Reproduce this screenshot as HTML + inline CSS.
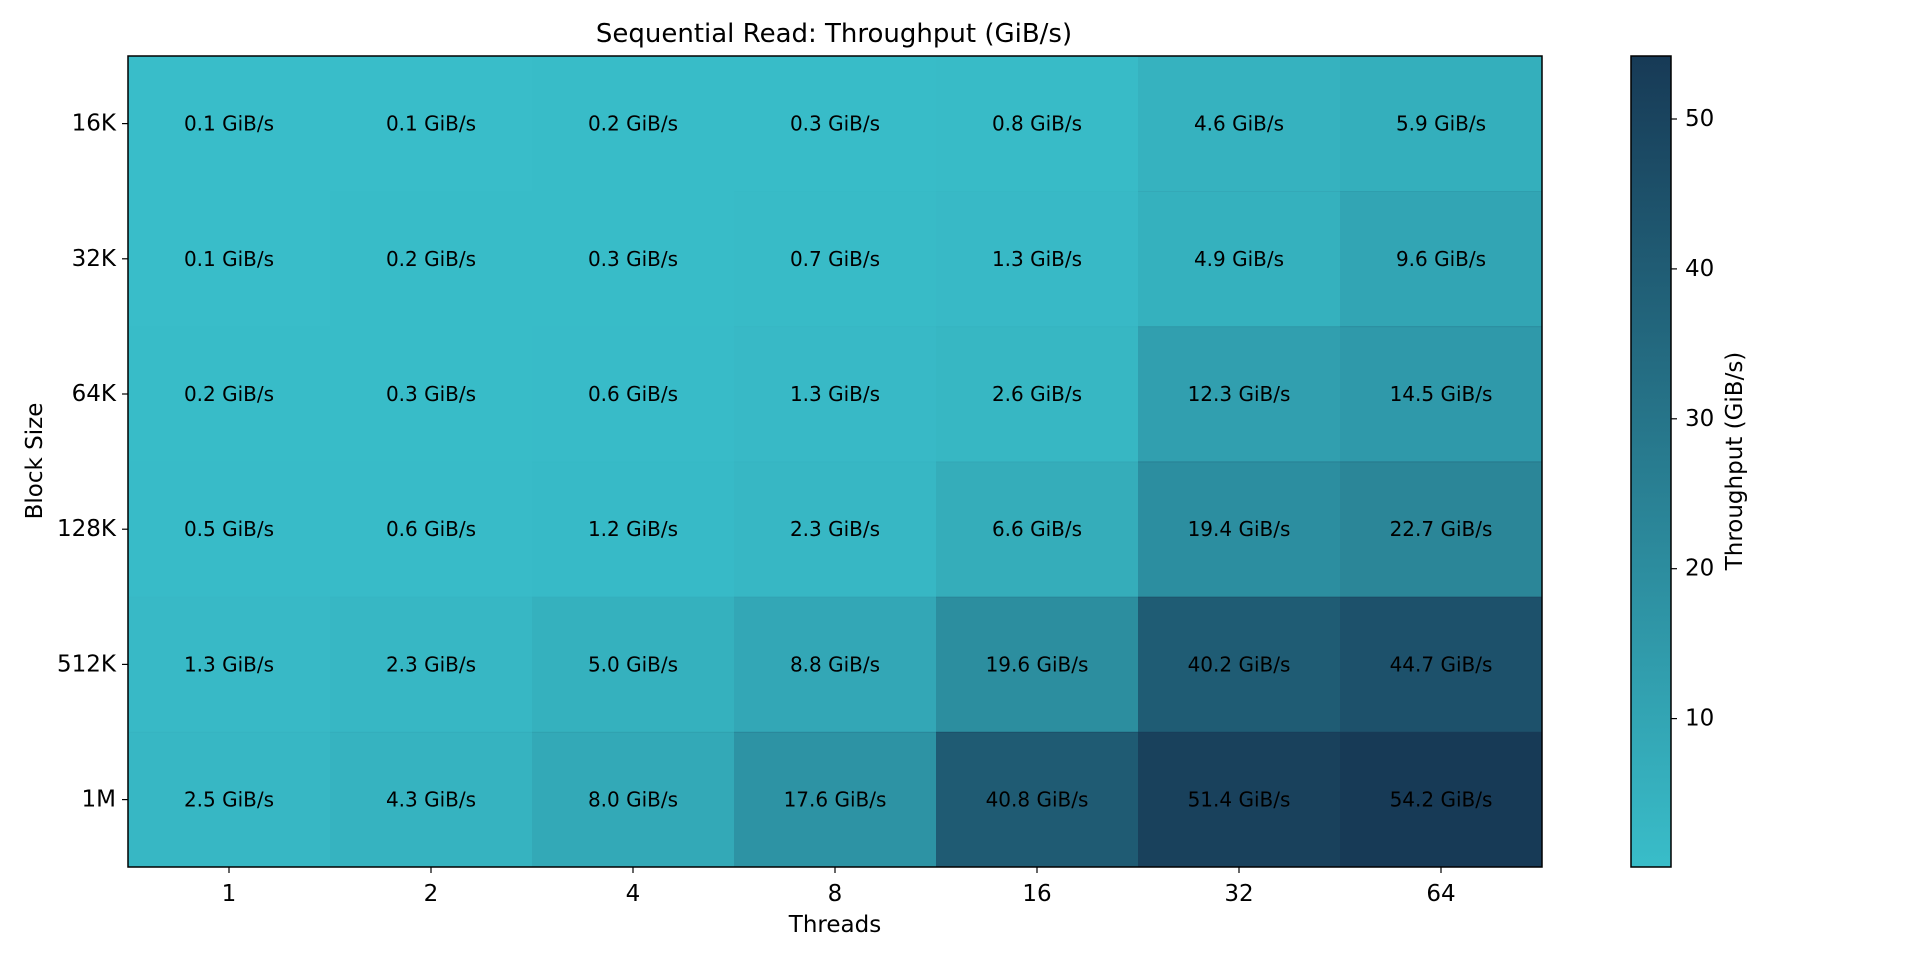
<!DOCTYPE html>
<html><head><meta charset="utf-8"><style>body{margin:0;background:#fff}svg{display:block}text{font-family:"DejaVu Sans","Liberation Sans",sans-serif;fill:#000}</style></head><body>
<svg width="1920" height="960" xmlns="http://www.w3.org/2000/svg">
<defs><linearGradient id="cb" x1="0" y1="1" x2="0" y2="0"><stop offset="0" stop-color="#39bdc9"/><stop offset="1" stop-color="#173a56"/></linearGradient></defs>
<text x="834" y="34" font-size="26" text-anchor="middle" dominant-baseline="central">Sequential Read: Throughput (GiB/s)</text>
<rect x="128" y="56" width="1414" height="811" fill="#39bdc9"/>
<g fill="#173a56">
<rect x="128" y="56" width="202" height="136" fill-opacity="0"/>
<rect x="330" y="56" width="202" height="136" fill-opacity="0"/>
<rect x="532" y="56" width="202" height="136" fill-opacity="0.002"/>
<rect x="734" y="56" width="202" height="136" fill-opacity="0.004"/>
<rect x="936" y="56" width="202" height="136" fill-opacity="0.013"/>
<rect x="1138" y="56" width="202" height="136" fill-opacity="0.083"/>
<rect x="1340" y="56" width="202" height="136" fill-opacity="0.107"/>
<rect x="128" y="191.2" width="202" height="136" fill-opacity="0"/>
<rect x="330" y="191.2" width="202" height="136" fill-opacity="0.002"/>
<rect x="532" y="191.2" width="202" height="136" fill-opacity="0.004"/>
<rect x="734" y="191.2" width="202" height="136" fill-opacity="0.011"/>
<rect x="936" y="191.2" width="202" height="136" fill-opacity="0.022"/>
<rect x="1138" y="191.2" width="202" height="136" fill-opacity="0.089"/>
<rect x="1340" y="191.2" width="202" height="136" fill-opacity="0.176"/>
<rect x="128" y="326.3" width="202" height="136" fill-opacity="0.002"/>
<rect x="330" y="326.3" width="202" height="136" fill-opacity="0.004"/>
<rect x="532" y="326.3" width="202" height="136" fill-opacity="0.009"/>
<rect x="734" y="326.3" width="202" height="136" fill-opacity="0.022"/>
<rect x="936" y="326.3" width="202" height="136" fill-opacity="0.046"/>
<rect x="1138" y="326.3" width="202" height="136" fill-opacity="0.226"/>
<rect x="1340" y="326.3" width="202" height="136" fill-opacity="0.266"/>
<rect x="128" y="461.5" width="202" height="136" fill-opacity="0.007"/>
<rect x="330" y="461.5" width="202" height="136" fill-opacity="0.009"/>
<rect x="532" y="461.5" width="202" height="136" fill-opacity="0.020"/>
<rect x="734" y="461.5" width="202" height="136" fill-opacity="0.041"/>
<rect x="936" y="461.5" width="202" height="136" fill-opacity="0.120"/>
<rect x="1138" y="461.5" width="202" height="136" fill-opacity="0.357"/>
<rect x="1340" y="461.5" width="202" height="136" fill-opacity="0.418"/>
<rect x="128" y="596.7" width="202" height="136" fill-opacity="0.022"/>
<rect x="330" y="596.7" width="202" height="136" fill-opacity="0.041"/>
<rect x="532" y="596.7" width="202" height="136" fill-opacity="0.091"/>
<rect x="734" y="596.7" width="202" height="136" fill-opacity="0.161"/>
<rect x="936" y="596.7" width="202" height="136" fill-opacity="0.360"/>
<rect x="1138" y="596.7" width="202" height="136" fill-opacity="0.741"/>
<rect x="1340" y="596.7" width="202" height="136" fill-opacity="0.824"/>
<rect x="128" y="731.8" width="202" height="135.2" fill-opacity="0.044"/>
<rect x="330" y="731.8" width="202" height="135.2" fill-opacity="0.078"/>
<rect x="532" y="731.8" width="202" height="135.2" fill-opacity="0.146"/>
<rect x="734" y="731.8" width="202" height="135.2" fill-opacity="0.323"/>
<rect x="936" y="731.8" width="202" height="135.2" fill-opacity="0.752"/>
<rect x="1138" y="731.8" width="202" height="135.2" fill-opacity="0.948"/>
<rect x="1340" y="731.8" width="202" height="135.2" fill-opacity="1"/>
</g>
<g font-size="20" text-anchor="middle" dominant-baseline="central">
<text x="229" y="123.6">0.1 GiB/s</text><text x="431" y="123.6">0.1 GiB/s</text><text x="633" y="123.6">0.2 GiB/s</text><text x="835" y="123.6">0.3 GiB/s</text><text x="1037" y="123.6">0.8 GiB/s</text><text x="1239" y="123.6">4.6 GiB/s</text><text x="1441" y="123.6">5.9 GiB/s</text>
<text x="229" y="258.8">0.1 GiB/s</text><text x="431" y="258.8">0.2 GiB/s</text><text x="633" y="258.8">0.3 GiB/s</text><text x="835" y="258.8">0.7 GiB/s</text><text x="1037" y="258.8">1.3 GiB/s</text><text x="1239" y="258.8">4.9 GiB/s</text><text x="1441" y="258.8">9.6 GiB/s</text>
<text x="229" y="394">0.2 GiB/s</text><text x="431" y="394">0.3 GiB/s</text><text x="633" y="394">0.6 GiB/s</text><text x="835" y="394">1.3 GiB/s</text><text x="1037" y="394">2.6 GiB/s</text><text x="1239" y="394">12.3 GiB/s</text><text x="1441" y="394">14.5 GiB/s</text>
<text x="229" y="529.2">0.5 GiB/s</text><text x="431" y="529.2">0.6 GiB/s</text><text x="633" y="529.2">1.2 GiB/s</text><text x="835" y="529.2">2.3 GiB/s</text><text x="1037" y="529.2">6.6 GiB/s</text><text x="1239" y="529.2">19.4 GiB/s</text><text x="1441" y="529.2">22.7 GiB/s</text>
<text x="229" y="664.4">1.3 GiB/s</text><text x="431" y="664.4">2.3 GiB/s</text><text x="633" y="664.4">5.0 GiB/s</text><text x="835" y="664.4">8.8 GiB/s</text><text x="1037" y="664.4">19.6 GiB/s</text><text x="1239" y="664.4">40.2 GiB/s</text><text x="1441" y="664.4">44.7 GiB/s</text>
<text x="229" y="799.6">2.5 GiB/s</text><text x="431" y="799.6">4.3 GiB/s</text><text x="633" y="799.6">8.0 GiB/s</text><text x="835" y="799.6">17.6 GiB/s</text><text x="1037" y="799.6">40.8 GiB/s</text><text x="1239" y="799.6">51.4 GiB/s</text><text x="1441" y="799.6">54.2 GiB/s</text>
</g>
<rect x="128" y="56" width="1414" height="811" fill="none" stroke="#000" stroke-width="1.5"/>
<g stroke="#000" stroke-width="1.2">
<line x1="229" y1="867" x2="229" y2="873"/><line x1="431" y1="867" x2="431" y2="873"/><line x1="633" y1="867" x2="633" y2="873"/><line x1="835" y1="867" x2="835" y2="873"/><line x1="1037" y1="867" x2="1037" y2="873"/><line x1="1239" y1="867" x2="1239" y2="873"/><line x1="1441" y1="867" x2="1441" y2="873"/>
<line x1="122" y1="123.6" x2="128" y2="123.6"/><line x1="122" y1="258.8" x2="128" y2="258.8"/><line x1="122" y1="394" x2="128" y2="394"/><line x1="122" y1="529.2" x2="128" y2="529.2"/><line x1="122" y1="664.4" x2="128" y2="664.4"/><line x1="122" y1="799.6" x2="128" y2="799.6"/>
</g>
<g font-size="23" text-anchor="middle">
<text x="229" y="901">1</text><text x="431" y="901">2</text><text x="633" y="901">4</text><text x="835" y="901">8</text><text x="1037" y="901">16</text><text x="1239" y="901">32</text><text x="1441" y="901">64</text>
</g>
<g font-size="23" text-anchor="end" dominant-baseline="central">
<text x="116" y="123.6">16K</text><text x="116" y="258.8">32K</text><text x="116" y="394">64K</text><text x="116" y="529.2">128K</text><text x="116" y="664.4">512K</text><text x="116" y="799.6">1M</text>
</g>
<text x="835" y="932" font-size="23" text-anchor="middle">Threads</text>
<text transform="translate(42,461) rotate(-90)" font-size="23" text-anchor="middle">Block Size</text>
<rect x="1631" y="56" width="40" height="811" fill="url(#cb)" stroke="#000" stroke-width="1.5"/>
<g stroke="#000" stroke-width="1.2">
<line x1="1671" y1="718.6" x2="1677" y2="718.6"/><line x1="1671" y1="568.7" x2="1677" y2="568.7"/><line x1="1671" y1="418.8" x2="1677" y2="418.8"/><line x1="1671" y1="268.9" x2="1677" y2="268.9"/><line x1="1671" y1="119" x2="1677" y2="119"/>
</g>
<g font-size="23" dominant-baseline="central">
<text x="1685" y="718.6">10</text><text x="1685" y="568.7">20</text><text x="1685" y="418.8">30</text><text x="1685" y="268.9">40</text><text x="1685" y="119">50</text>
</g>
<text transform="translate(1742,461) rotate(-90)" font-size="23" text-anchor="middle">Throughput (GiB/s)</text>
</svg>
</body></html>
